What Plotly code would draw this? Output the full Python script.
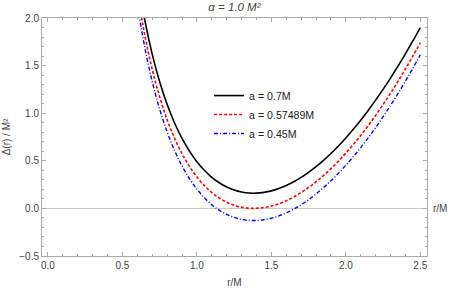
import plotly.graph_objects as go

r_vals = [0.60, 0.65, 0.70, 0.75, 0.80, 0.85, 0.90, 0.95, 1.00, 1.05, 1.10, 1.15, 1.20,
          1.25, 1.30, 1.35, 1.40, 1.45, 1.50, 1.55, 1.60, 1.65, 1.70, 1.75, 1.80, 1.85,
          1.90, 1.95, 2.00, 2.05, 2.10, 2.15, 2.20, 2.25, 2.30, 2.35, 2.40, 2.45, 2.50]

delta_a070 = [2.428, 1.979, 1.621, 1.330, 1.093, 0.897, 0.735, 0.601, 0.490, 0.400, 0.326,
              0.269, 0.224, 0.193, 0.172, 0.161, 0.160, 0.168, 0.184, 0.209, 0.241, 0.280,
              0.326, 0.379, 0.439, 0.505, 0.577, 0.656, 0.740, 0.831, 0.927, 1.029, 1.137,
              1.250, 1.369, 1.494, 1.624, 1.759, 1.900]

delta_a057 = [2.268, 1.820, 1.461, 1.171, 0.933, 0.737, 0.575, 0.441, 0.331, 0.240, 0.167,
              0.109, 0.065, 0.033, 0.012, 0.002, 0.001, 0.009, 0.025, 0.049, 0.081, 0.120,
              0.167, 0.220, 0.279, 0.345, 0.418, 0.496, 0.581, 0.671, 0.767, 0.869, 0.977,
              1.091, 1.210, 1.334, 1.464, 1.600, 1.741]

delta_a045 = [2.140, 1.692, 1.333, 1.043, 0.805, 0.609, 0.447, 0.313, 0.203, 0.112, 0.039,
              -0.019, -0.063, -0.095, -0.116, -0.126, -0.127, -0.119, -0.103, -0.079, -0.047,
              -0.008, 0.039, 0.092, 0.151, 0.217, 0.290, 0.368, 0.453, 0.543, 0.639, 0.741,
              0.849, 0.963, 1.082, 1.206, 1.336, 1.472, 1.613]

labels = ["a = 0.7M", "a = 0.57489M", "a = 0.45M"]

FONT = "Liberation Sans, Arial, sans-serif"
TXT = "#444444"
FRAME = "#aaaaaa"

fig = go.Figure()
fig.add_trace(go.Scatter(x=r_vals, y=delta_a070, mode="lines", name=labels[0],
                         line=dict(color="black", width=1.6, shape="spline")))
fig.add_trace(go.Scatter(x=r_vals, y=delta_a057, mode="lines", name=labels[1],
                         line=dict(color="#ff0000", width=1.6, dash="3px,2px", shape="spline")))
fig.add_trace(go.Scatter(x=r_vals, y=delta_a045, mode="lines", name=labels[2],
                         line=dict(color="#0000ff", width=1.4, dash="4px,2px,1px,2px", shape="spline")))

axis_common = dict(
    showline=True, linecolor=FRAME, linewidth=1, mirror="ticks",
    ticks="inside", ticklen=4, tickcolor=FRAME, tickwidth=1,
    showgrid=False, tickfont=dict(family=FONT, size=10, color=TXT), automargin=False,
)

fig.update_xaxes(range=[-0.04, 2.545], tickvals=[0.0, 0.5, 1.0, 1.5, 2.0, 2.5],
                 ticktext=["0.0", "0.5", "1.0", "1.5", "2.0", "2.5"], zeroline=False,
                 minor=dict(dtick=0.1, tick0=0, ticks="inside", ticklen=2, tickcolor=FRAME),
                 title=dict(text="r/M", font=dict(family=FONT, size=10, color=TXT), standoff=9),
                 **axis_common)
fig.update_yaxes(range=[-0.5, 2.0], tickvals=[-0.5, 0.0, 0.5, 1.0, 1.5, 2.0],
                 ticktext=["\u22120.5", "0.0", "0.5", "1.0", "1.5", "2.0"],
                 zeroline=True, zerolinecolor="#c8c8c8", zerolinewidth=1,
                 minor=dict(dtick=0.1, tick0=0, ticks="inside", ticklen=2, tickcolor=FRAME),
                 title=dict(text="\u0394(r) / M\u00b2", font=dict(family=FONT, size=10, color=TXT), standoff=6),
                 **axis_common)

fig.add_annotation(text="r/M", xref="paper", yref="paper", x=1, y=0.2, xanchor="left", yanchor="middle",
                   xshift=4, showarrow=False, font=dict(family=FONT, size=10, color=TXT))

fig.update_layout(
    width=449, height=288,
    margin=dict(l=42, r=22, t=18, b=32),
    paper_bgcolor="white", plot_bgcolor="white",
    title=dict(text="<i>\u03b1 = 1.0 M\u00b2</i>", x=0.522, xanchor="center", y=0.99, yanchor="top",
               font=dict(family=FONT, size=11.5, color=TXT)),
    legend=dict(x=0.434, y=0.735, xanchor="left", yanchor="top", bgcolor="rgba(0,0,0,0)",
                font=dict(family=FONT, size=10.6, color="#222222"), itemwidth=30,
                tracegroupgap=0),
    showlegend=True,
)

fig.write_html("out.html", config={"displayModeBar": False},
               post_script="document.body.style.margin='0';")
